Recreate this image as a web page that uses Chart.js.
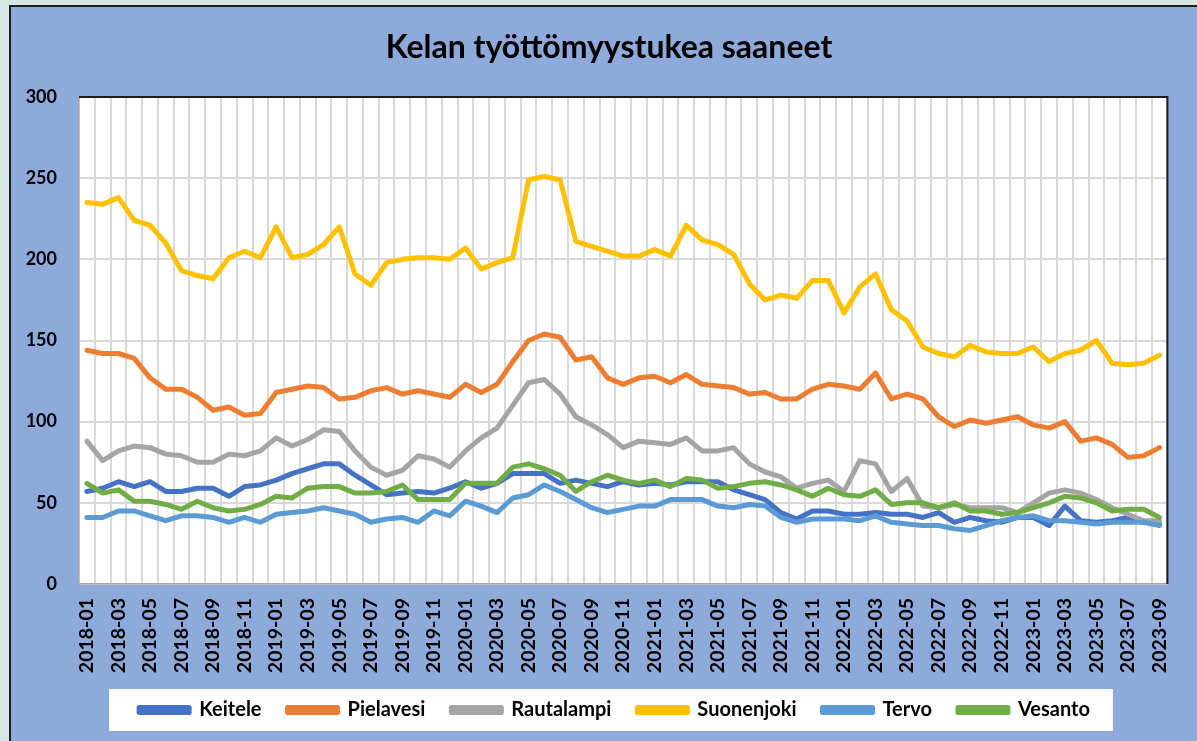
<!DOCTYPE html>
<html>
<head>
<meta charset="utf-8">
<script src="https://cdn.jsdelivr.net/npm/chart.js@4"></script>
<style>
  html, body { margin: 0; padding: 0; }
  body { width: 1197px; height: 741px; background: #d5e8e4; position: relative; overflow: hidden; }
  #frame { position: absolute; left: 9px; top: 5px; width: 1200px; height: 750px; background: #8eaadb; border-left: 2px solid #1e1e1e; border-top: 2px solid #1e1e1e; }
  #chart { position: absolute; left: 0; top: 0; }
</style>
</head>
<body>
<div id="frame"></div>
<canvas id="chart" width="1197" height="741"></canvas>
<script>
const months = [
  "2018-01","2018-02","2018-03","2018-04","2018-05","2018-06","2018-07","2018-08","2018-09","2018-10","2018-11","2018-12",
  "2019-01","2019-02","2019-03","2019-04","2019-05","2019-06","2019-07","2019-08","2019-09","2019-10","2019-11","2019-12",
  "2020-01","2020-02","2020-03","2020-04","2020-05","2020-06","2020-07","2020-08","2020-09","2020-10","2020-11","2020-12",
  "2021-01","2021-02","2021-03","2021-04","2021-05","2021-06","2021-07","2021-08","2021-09","2021-10","2021-11","2021-12",
  "2022-01","2022-02","2022-03","2022-04","2022-05","2022-06","2022-07","2022-08","2022-09","2022-10","2022-11","2022-12",
  "2023-01","2023-02","2023-03","2023-04","2023-05","2023-06","2023-07","2023-08","2023-09"
];

const keitele = [57,59,63,60,63,57,57,59,59,54,60,61,
  64,68,71,74,74,67,61,55,56,57,56,59,
  63,59,62,68,68,68,62,64,62,60,63,61,
  62,61,63,63,63,58,55,52,44,40,45,45,
  43,43,44,43,43,41,44,38,41,39,38,41,
  41,36,48,39,38,39,41,38,37];

const pielavesi = [144,142,142,139,127,120,120,115,107,109,104,105,
  118,120,122,121,114,115,119,121,117,119,117,115,
  123,118,123,137,150,154,152,138,140,127,123,127,
  128,124,129,123,122,121,117,118,114,114,120,123,
  122,120,130,114,117,114,103,97,101,99,101,103,
  98,96,100,88,90,86,78,79,84];

const rautalampi = [88,76,82,85,84,80,79,75,75,80,79,82,
  90,85,89,95,94,82,72,67,70,79,77,72,
  82,90,96,110,124,126,117,103,98,92,84,88,
  87,86,90,82,82,84,74,69,66,59,62,64,
  57,76,74,57,65,48,47,49,47,47,47,44,
  50,56,58,56,52,47,43,39,39];

const suonenjoki = [235,234,238,224,221,210,193,190,188,201,205,201,
  220,201,203,209,220,191,184,198,200,201,201,200,
  207,194,198,201,249,251,249,211,208,205,202,202,
  206,202,221,212,209,203,185,175,178,176,187,187,
  167,183,191,169,162,146,142,140,147,143,142,142,
  146,137,142,144,150,136,135,136,141];

const tervo = [41,41,45,45,42,39,42,42,41,38,41,38,
  43,44,45,47,45,43,38,40,41,38,45,42,
  51,48,44,53,55,61,57,52,47,44,46,48,
  48,52,52,52,48,47,49,48,41,38,40,40,
  40,39,42,38,37,36,36,34,33,36,39,41,
  42,39,39,38,37,38,38,38,36];

const vesanto = [62,56,58,51,51,49,46,51,47,45,46,49,
  54,53,59,60,60,56,56,57,61,52,52,52,
  62,62,62,72,74,71,67,57,63,67,64,62,
  64,60,65,64,59,60,62,63,61,58,54,59,
  55,54,58,49,50,50,47,50,45,45,43,44,
  47,50,54,53,50,45,46,46,41];

const yTicks = [0, 50, 100, 150, 200, 250, 300];

const seriesNames = ["Keitele", "Pielavesi", "Rautalampi", "Suonenjoki", "Tervo", "Vesanto"];
const seriesData = [keitele, pielavesi, rautalampi, suonenjoki, tervo, vesanto];
const seriesColors = ["#4472c4", "#ed7d31", "#a5a5a5", "#ffc000", "#5b9bd5", "#70ad47"];

const chartTitle = "Kelan työttömyystukea saaneet";

const FONT = "Lato, 'Open Sans', sans-serif";

// white plot area, white legend box, title, black top/right edge
const decorations = {
  id: "decorations",
  afterLayout(chart) {
    // legend sits a bit right of the chart centre in the original
    chart.legend.left += 14;
    chart.legend.right += 14;
  },
  beforeDraw(chart) {
    const { ctx, chartArea: a } = chart;
    ctx.save();
    ctx.fillStyle = "#ffffff";
    ctx.fillRect(a.left, a.top, a.right - a.left, a.bottom - a.top);

    const boxes = chart.legend.legendHitBoxes;
    if (boxes && boxes.length) {
      const l = Math.min(...boxes.map(b => b.left));
      const r = Math.max(...boxes.map(b => b.left + b.width));
      const cy = boxes[0].top + boxes[0].height / 2;
      ctx.fillRect(l - 30, cy - 21, r - l + 53, 42);
    }

    ctx.fillStyle = "#000000";
    ctx.font = "bold 32px " + FONT;
    ctx.textAlign = "center";
    ctx.textBaseline = "middle";
    ctx.fillText(chartTitle, 609, 48);
    ctx.restore();
  },
  afterDraw(chart) {
    const { ctx, chartArea: a } = chart;
    ctx.save();
    ctx.strokeStyle = "#1e1e1e";
    ctx.lineWidth = 2;
    ctx.beginPath();
    ctx.moveTo(a.left, a.top);
    ctx.lineTo(a.right, a.top);
    ctx.lineTo(a.right, a.bottom);
    ctx.stroke();
    ctx.restore();
  }
};

new Chart(document.getElementById("chart"), {
  type: "line",
  data: {
    labels: months,
    datasets: seriesNames.map((name, i) => ({
      label: name,
      data: seriesData[i],
      borderColor: seriesColors[i],
      backgroundColor: seriesColors[i],
      borderWidth: 5,
      pointRadius: 0,
      tension: 0,
      borderJoinStyle: "round",
      borderCapStyle: "round",
      order: seriesNames.length - i
    }))
  },
  options: {
    responsive: false,
    animation: false,
    devicePixelRatio: 1,
    layout: { padding: { left: 18, right: 14, top: 97, bottom: 11 } },
    plugins: {
      title: { display: false },
      legend: {
        position: "bottom",
        labels: {
          color: "#000000",
          font: { family: FONT, size: 20, weight: "bold" },
          boxWidth: 50,
          boxHeight: 5,
          padding: 26,
          sort: (a, b) => a.datasetIndex - b.datasetIndex
        }
      },
      tooltip: { enabled: false }
    },
    scales: {
      x: {
        offset: true,
        grid: { offset: true, color: "#d9d9d9", lineWidth: 2, drawTicks: false },
        border: { color: "#a6a6a6", width: 1.5 },
        ticks: {
          autoSkip: false,
          minRotation: 90,
          maxRotation: 90,
          padding: 14,
          color: "#000000",
          font: { family: FONT, size: 19.5, weight: "bold" },
          callback(value, index) {
            return index % 2 === 0 ? this.getLabelForValue(value) : "";
          }
        },
        afterFit(scale) { scale.height = 90; }
      },
      y: {
        min: yTicks[0],
        max: yTicks[yTicks.length - 1],
        grid: { color: "#d9d9d9", lineWidth: 2, drawTicks: false },
        border: { color: "#a6a6a6", width: 1.5 },
        afterBuildTicks(scale) { scale.ticks = yTicks.map(v => ({ value: v })); },
        ticks: {
          padding: 22,
          color: "#000000",
          font: { family: FONT, size: 18, weight: "bold" }
        },
        afterFit(scale) { scale.width = 61; }
      }
    }
  },
  plugins: [decorations]
});
</script>
</body>
</html>
